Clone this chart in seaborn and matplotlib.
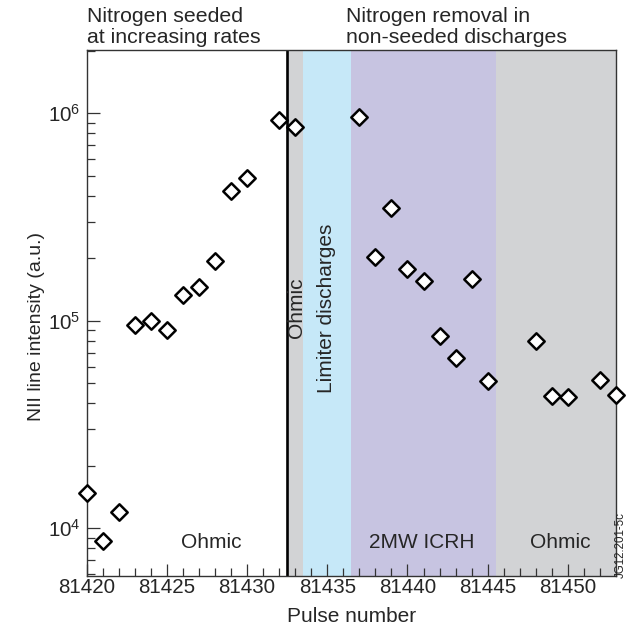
import matplotlib
matplotlib.use("Agg")
import matplotlib.pyplot as plt
import matplotlib.ticker as mticker
import seaborn as sns
import pandas as pd

sns.set_theme(style="white")
plt.rcParams['font.family'] = ['Liberation Sans', 'DejaVu Sans']
plt.rcParams['mathtext.fontset'] = 'custom'
plt.rcParams['mathtext.rm'] = 'Liberation Sans'

# Data
pulses = [81420, 81421, 81422, 81423, 81424, 81425, 81426, 81427, 81428, 81429,
          81430, 81432, 81433, 81437, 81438, 81439, 81440, 81441, 81442, 81443,
          81444, 81445, 81448, 81449, 81450, 81452, 81453]
intensity = [1.48e4, 8.7e3, 1.2e4, 9.5e4, 1.0e5, 9.0e4, 1.33e5, 1.45e5, 1.95e5, 4.2e5,
             4.9e5, 9.3e5, 8.6e5, 9.6e5, 2.04e5, 3.48e5, 1.77e5, 1.56e5, 8.4e4, 6.6e4,
             1.59e5, 5.1e4, 8.0e4, 4.35e4, 4.3e4, 5.2e4, 4.4e4]

# Shaded regions (edges and colours)
region_edges = [81432.5, 81433.5, 81436.5, 81445.5, 81453]
region_colors = ["#d2d3d5", "#c6e8f8", "#c7c4e1", "#d2d3d5"]
separator = 81432.5

df = pd.DataFrame({"pulse": pulses, "intensity": intensity})

fig = plt.figure(figsize=(6.35, 6.35), dpi=100)
ax = fig.add_axes([0.1365, 0.0929, 0.8336, 0.8284])

for i, c in enumerate(region_colors):
    ax.axvspan(region_edges[i], region_edges[i + 1], color=c, lw=0, zorder=0)
ax.axvline(separator, color="black", lw=1.9, zorder=1)

sns.scatterplot(data=df, x="pulse", y="intensity", marker="D", s=70,
                facecolor="white", edgecolor="black", linewidth=1.8,
                ax=ax, zorder=5, clip_on=False)

ax.set_yscale("log")
ax.set_xlim(81420, 81453)
ax.set_ylim(5.88e3, 2.02e6)

ax.xaxis.set_major_locator(mticker.MultipleLocator(5))
ax.xaxis.set_minor_locator(mticker.MultipleLocator(1))
ax.xaxis.set_major_formatter(mticker.FormatStrFormatter("%d"))
ax.yaxis.set_major_locator(mticker.LogLocator(base=10, numticks=10))
ax.yaxis.set_minor_locator(mticker.LogLocator(base=10, subs=range(2, 10), numticks=20))
ax.yaxis.set_minor_formatter(mticker.NullFormatter())

ax.tick_params(axis="both", which="major", direction="in", length=9, width=0.9,
               color="#333333", labelsize=14.8, bottom=True, left=True)
ax.tick_params(axis="x", which="major", pad=1.5)
ax.tick_params(axis="y", which="major", pad=4.5)
ax.tick_params(axis="both", which="minor", direction="in", length=5.5, width=0.9,
               color="#333333", bottom=True, left=True)
for sp in ax.spines.values():
    sp.set_color("#333333")
    sp.set_linewidth(1.0)

ax.set_xlabel("Pulse number", fontsize=15, labelpad=7)
ax.set_ylabel("NII line intensity (a.u.)", fontsize=14)
ax.yaxis.set_label_coords(-0.078, 0.475)

# Region labels
ax.text(81427.74, 8.02e3, "Ohmic", fontsize=15, ha="center", va="baseline")
ax.text(81440.86, 8.02e3, "2MW ICRH", fontsize=15, ha="center", va="baseline")
ax.text(81449.5, 8.02e3, "Ohmic", fontsize=15, ha="center", va="baseline")
ax.text(81433.08, 1.15e5, "Ohmic", fontsize=15, ha="center", va="center", rotation=90)
ax.text(81434.95, 1.15e5, "Limiter discharges", fontsize=15, ha="center", va="center", rotation=90)

# Top annotations
top_left = ["Nitrogen seeded", "at increasing rates"]
top_right = ["Nitrogen removal in", "non-seeded discharges"]
for i, line in enumerate(top_left):
    fig.text(86.7 / 635, 1 - (22.5 + 20.8 * i) / 635, line, fontsize=15.3,
             ha="left", va="baseline")
for i, line in enumerate(top_right):
    fig.text(346 / 635, 1 - (22.5 + 20.8 * i) / 635, line, fontsize=15.3,
             ha="left", va="baseline")
fig.text(621 / 635, 1 - 545 / 635, "JG12.201-5c", fontsize=8.3, rotation=90,
         ha="center", va="center")

fig.savefig("out.png", dpi=100)
